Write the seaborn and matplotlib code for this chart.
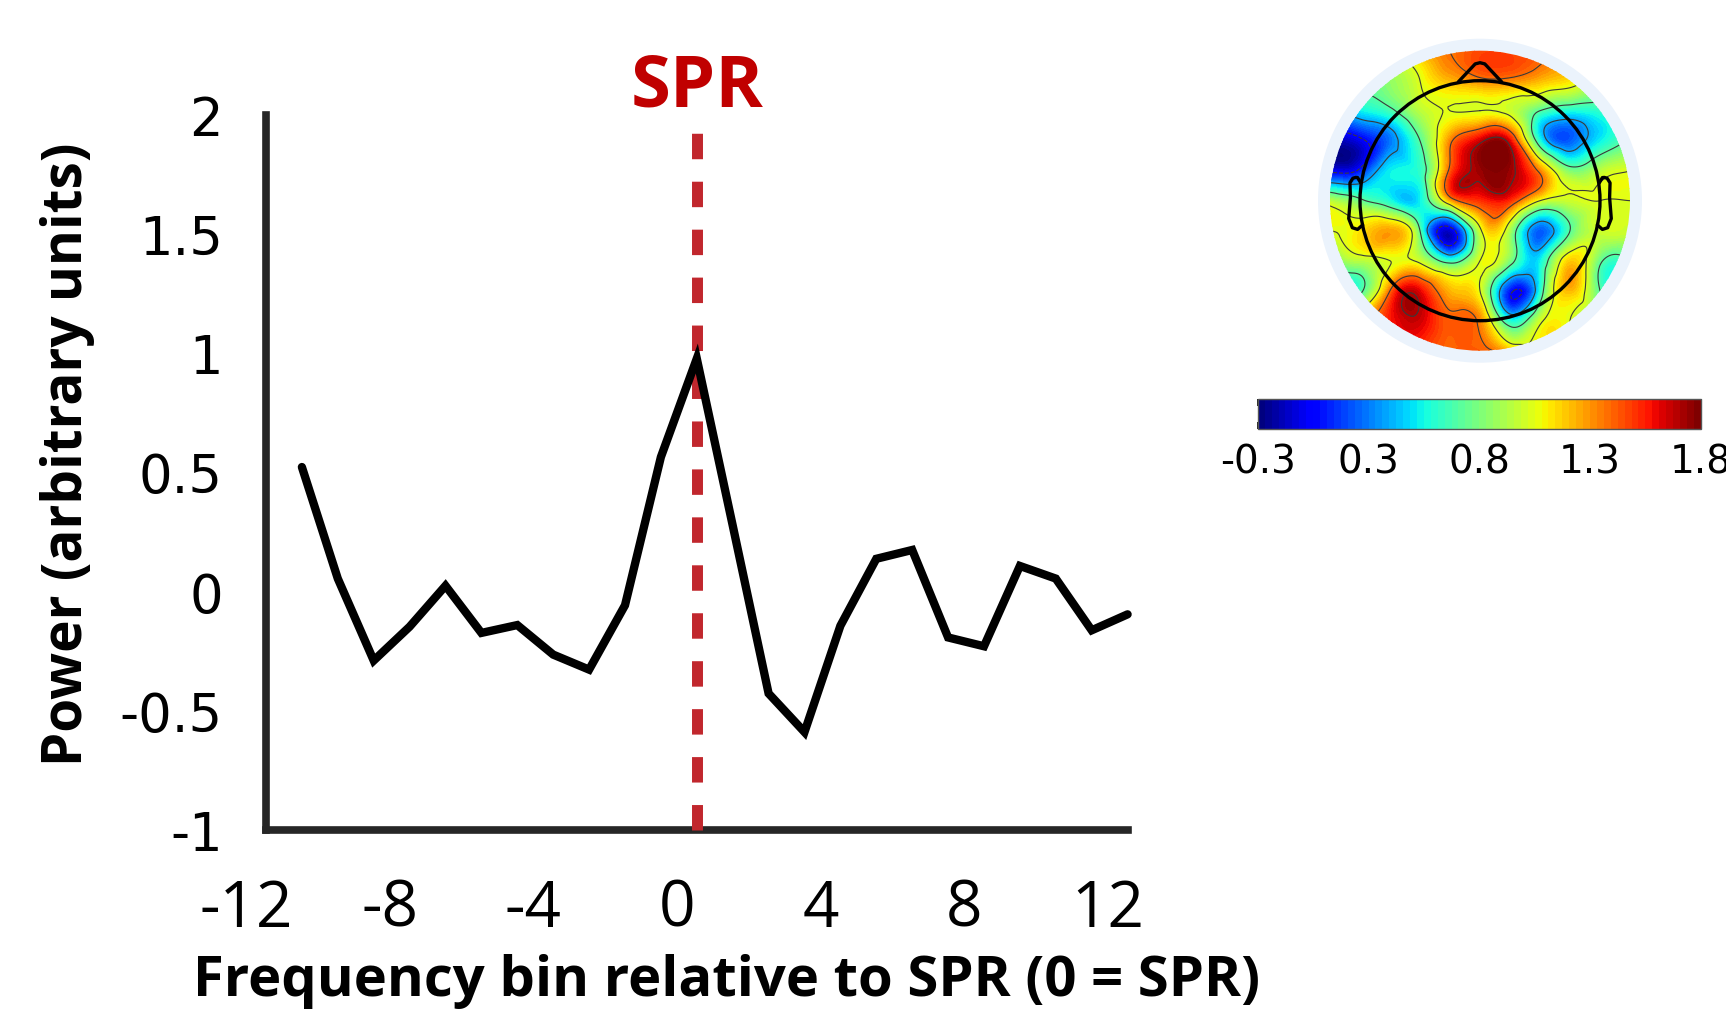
import numpy as np
import pandas as pd
import matplotlib
matplotlib.use("Agg")
import matplotlib.pyplot as plt
import matplotlib.tri as mtri
from matplotlib.patches import Circle
from matplotlib.transforms import ScaledTranslation, blended_transform_factory
from matplotlib.cm import ScalarMappable
from matplotlib.colors import Normalize
import seaborn as sns

# ---------------- data ----------------
freq_bin = list(range(-11, 13))
power = [0.525, 0.057, -0.287, -0.145, 0.027, -0.171, -0.138, -0.262, -0.325,
         -0.055, 0.567, 0.98, 0.28, -0.425, -0.587, -0.141, 0.140, 0.177,
         -0.190, -0.227, 0.110, 0.057, -0.160, -0.093]
x_ticks = [-12, -8, -4, 0, 4, 8, 12]
x_tick_labels = ["-12", "-8", "-4", "0", "4", "8", "12"]
y_ticks = [-1, -0.5, 0, 0.5, 1, 1.5, 2]
y_tick_labels = ["-1", "-0.5", "0", "0.5", "1", "1.5", "2"]
spr_bin = 0

# topography grid (columns: left->right, rows: top->bottom)
topo_u = [-1.0, -0.8, -0.6, -0.4, -0.2, 0.0, 0.2, 0.4, 0.6, 0.8, 1.0]
topo_v = [1.0, 0.8, 0.6, 0.4, 0.2, 0.0, -0.2, -0.4, -0.6, -0.8, -1.0]
topo_values = [
    [1.0, 1.0, 1.0, 1.2, 1.35, 1.45, 1.45, 1.4, 1.2, 1.0, 0.9],
    [0.7, 0.7, 0.8, 1.0, 1.2, 1.3, 1.3, 1.2, 1.1, 0.85, 0.75],
    [0.3, 0.45, 0.6, 0.9, 1.0, 1.0, 0.95, 0.65, 0.5, 0.55, 0.7],
    [-0.2, -0.1, 0.2, 0.65, 1.3, 1.65, 1.6, 0.5, 0.15, 0.45, 0.7],
    [-0.1, 0.0, 0.45, 0.55, 1.4, 1.75, 1.75, 1.3, 0.75, 0.9, 1.0],
    [0.9, 0.7, 0.5, 0.45, 1.2, 1.5, 1.5, 1.0, 0.95, 1.0, 1.0],
    [1.0, 1.1, 1.25, 0.65, -0.15, 0.95, 0.85, 0.15, 0.65, 0.95, 0.95],
    [0.7, 0.9, 1.0, 0.95, 0.55, 1.0, 0.75, 0.45, 1.15, 0.7, 0.65],
    [0.6, 0.6, 1.35, 1.6, 1.2, 1.0, 0.0, 0.5, 1.2, 0.65, 0.65],
    [1.2, 1.3, 1.55, 1.65, 1.4, 1.3, 0.5, 0.95, 1.0, 0.85, 0.8],
    [1.3, 1.4, 1.5, 1.5, 1.4, 1.4, 1.2, 1.0, 1.0, 0.9, 0.8],
]
cbar_ticks = [-0.3, 0.225, 0.75, 1.275, 1.8]
cbar_labels = ["-0.3", "0.3", "0.8", "1.3", "1.8"]
cbar_min, cbar_max = -0.3, 1.8

# ---------------- style ----------------
sns.set_theme(style="white")
plt.rcParams["font.family"] = ["DejaVu Sans"]
plt.rcParams["axes.unicode_minus"] = False
plt.rcParams["text.color"] = "black"
plt.rcParams["axes.labelcolor"] = "black"
plt.rcParams["xtick.labelcolor"] = "black"
plt.rcParams["ytick.labelcolor"] = "black"

SPINE = "#262626"
RED = "#C1272D"

fig = plt.figure(figsize=(17.26, 10.11), dpi=100)
fig.patch.set_facecolor("white")

# ---------------- main line chart ----------------
ax = fig.add_axes([0.15411, 0.17854, 0.49919, 0.70722])
df = pd.DataFrame({"bin": freq_bin, "power": power})

ax.plot([spr_bin, spr_bin], [-1, 1.927], color=RED, lw=7.9,
        dashes=(2.32, 2.05), solid_capstyle="butt", clip_on=False, zorder=3)
sns.lineplot(data=df, x="bin", y="power", color="black", lw=6.0, ax=ax,
             zorder=4, solid_joinstyle="miter", clip_on=False)

ax.set_xlim(-12, 12)
ax.set_ylim(-1, 2)
for s in ["top", "right"]:
    ax.spines[s].set_visible(False)
for s in ["left", "bottom"]:
    ax.spines[s].set_linewidth(5.5)
    ax.spines[s].set_color(SPINE)
    ax.spines[s].set_zorder(2.5)

ax.set_xticks(x_ticks)
ax.set_xticklabels(x_tick_labels, family=["Open Sans", "DejaVu Sans"], fontsize=46,
                   color="black")
ax.set_yticks(y_ticks)
ax.set_yticklabels(y_tick_labels, family=["DejaVu Sans"], fontsize=38, color="black")
ax.tick_params(axis="both", direction="in", length=8.4, width=5.5, color=SPINE,
               labelcolor="black")
ax.tick_params(axis="x", pad=34)
ax.tick_params(axis="y", pad=31)
shift = ScaledTranslation(-20 / 100, 0, fig.dpi_scale_trans)
for lbl in ax.get_xticklabels():
    lbl.set_transform(lbl.get_transform() + shift)

ax.set_xlabel("Frequency bin relative to SPR (0 = SPR)",
              family=["Open Sans", "DejaVu Sans"],
              fontweight="bold", fontsize=40.5, color="black")
ax.xaxis.label.set_va("baseline")
ax.xaxis.set_label_coords(0.535, -0.2315)
ax.set_ylabel("Power (arbitrary units)",
              family=["Open Sans", "DejaVu Sans"],
              fontweight="bold", fontsize=39.5, color="black")
ax.yaxis.label.set_va("center")
ax.yaxis.set_label_coords(-0.2298, 0.5266)

ax.text(spr_bin, 1.012, "SPR", transform=blended_transform_factory(ax.transData, ax.transAxes),
        ha="center", va="baseline", color="#C00000", fontsize=52, fontweight="bold",
        family=["Open Sans", "DejaVu Sans"])

# ---------------- topographic map ----------------
ax2 = fig.add_axes([0.76188, 0.63828, 0.19119, 0.32641])
ax2.set_xlim(-1.1, 1.1)
ax2.set_ylim(-1.1, 1.1)
ax2.set_aspect("equal")
ax2.axis("off")

ax2.add_patch(Circle((0, 0), 1.08, facecolor="#EBF3FC", edgecolor="none", zorder=0))
U, V = np.meshgrid(np.array(topo_u), np.array(topo_v))
Z = np.array(topo_values)
tri = mtri.Triangulation(U.ravel(), V.ravel())
refiner = mtri.UniformTriRefiner(tri)
tri_r, z_r = refiner.refine_field(Z.ravel(), subdiv=4)
clip = Circle((0, 0), 1.0, transform=ax2.transData)
cf = ax2.tricontourf(tri_r, z_r, levels=np.linspace(cbar_min, cbar_max, 64),
                     cmap="jet", extend="both", zorder=1)
cf.set_clip_path(clip)
cl = ax2.tricontour(tri_r, z_r, levels=[-0.05, 0.3, 0.65, 1.0, 1.35, 1.7],
                    colors="#3a3a3a", linewidths=0.8, zorder=2)
cl.set_clip_path(clip)

hr = 0.80
ax2.add_patch(Circle((0, 0), hr, fill=False, lw=2.4, edgecolor="black", zorder=5))
k = hr / 0.5
nose_x = np.array([0.090, 0.020, 0, -0.020, -0.090]) * k
nose_y = np.array([0.4954, 0.57, 0.575, 0.57, 0.4954]) * k
ax2.plot(nose_x, nose_y, color="black", lw=2.4, zorder=5)
ear_x = np.array([0.497, 0.510, 0.518, 0.5299, 0.5419, 0.54, 0.547, 0.532, 0.510, 0.489]) * k
ear_y = np.array([0.0555, 0.0775, 0.0783, 0.0746, 0.0555, -0.0055, -0.0932, -0.1313, -0.1384, -0.1199]) * k + 0.03
ax2.plot(ear_x, ear_y, color="black", lw=2.4, zorder=5)
ax2.plot(-ear_x, ear_y, color="black", lw=2.4, zorder=5)

# ---------------- colorbar ----------------
cax = fig.add_axes([0.7287, 0.5760, 0.2567, 0.02888])
sm = ScalarMappable(norm=Normalize(cbar_min, cbar_max), cmap=plt.get_cmap("jet", 64))
cb = fig.colorbar(sm, cax=cax, orientation="horizontal")
cb.set_ticks(cbar_ticks)
cb.set_ticklabels(cbar_labels)
cb.outline.set_edgecolor("#555555")
cb.outline.set_linewidth(1.0)
cax.xaxis.set_ticks_position("both")
cax.tick_params(axis="x", direction="in", length=5, width=1.2, colors="black",
                labelsize=28, pad=11, labeltop=False, labelbottom=True)

fig.savefig("out.png", dpi=100)
